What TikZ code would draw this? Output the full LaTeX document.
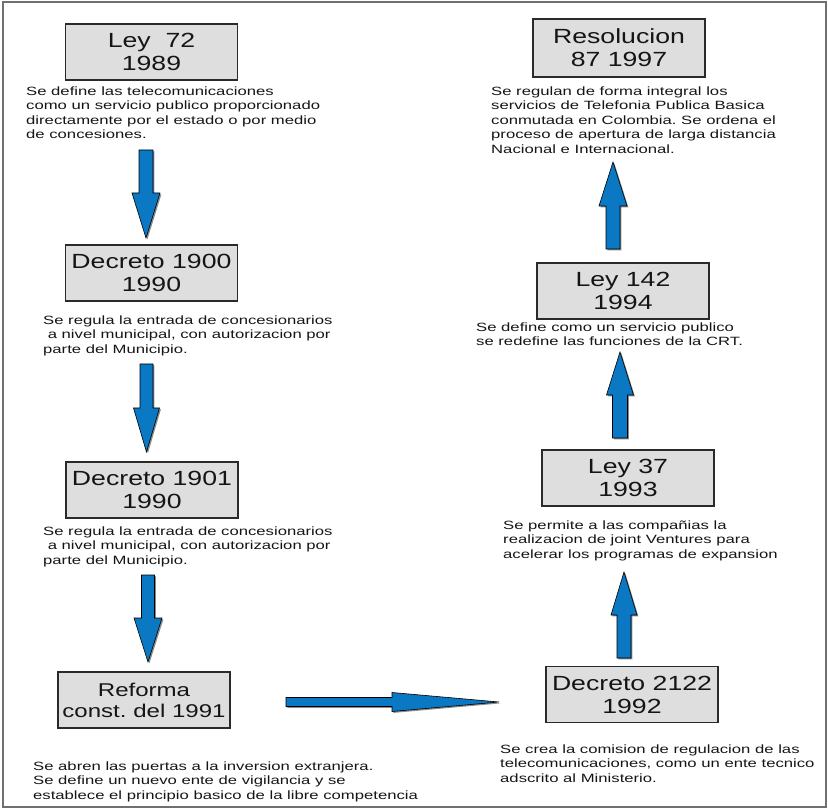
\documentclass[tikz,border=0pt]{standalone}
\usepackage{fontspec}
\setmainfont{Liberation Sans}
\newfontfamily\titlefont[FakeStretch=1.3]{Liberation Sans}
\newfontfamily\descfont[FakeStretch=1.39]{Liberation Sans}
\usetikzlibrary{calc}
\frenchspacing

\definecolor{framegray}{HTML}{707070}
\definecolor{boxfill}{HTML}{DEDEDE}
\definecolor{boxline}{HTML}{2A2A2A}
\definecolor{arrowblue}{HTML}{0A78C2}
\definecolor{shadowgray}{HTML}{8A8A8A}
\definecolor{textgray}{HTML}{151515}

\tikzset{
  lawbox/.style={draw=boxline, fill=boxfill, line width=1.1pt,
    minimum width=172pt, minimum height=56pt, inner sep=0pt,
    align=center, text=textgray,
    font={\titlefont\fontsize{20.5}{23}\selectfont}},
  smallbox/.style={lawbox, font={\titlefont\fontsize{18.5}{21}\selectfont}},
  note/.style={anchor=north west, inner sep=0pt, align=left, text=textgray,
    font={\descfont\fontsize{12}{14.5}\selectfont}},
  arrowbody/.style={fill=arrowblue, draw=black, line width=0.6pt, line join=miter},
  arrowshadow/.style={fill=shadowgray, draw=none},
  framestyle/.style={draw=framegray, line width=1.5pt},
}

% outline of a block arrow: #1 tail, #2 tip, #3 half shaft width,
% #4 half head width; (hb) is the centre of the head base
\newcommand\arrowoutline[4]{($(#1)!#3!90:(#2)$) -- ($(hb)!#3!90:(#2)$)
  -- ($(hb)!#4!90:(#2)$) -- (#2) -- ($(hb)!#4!-90:(#2)$)
  -- ($(hb)!#3!-90:(#2)$) -- ($(#1)!#3!-90:(#2)$) -- cycle}
% #5 is the length of the head
\newcommand\blockarrow[5]{%
  \coordinate (hb) at ($(#2)!#5!(#1)$);
  \fill[arrowshadow, transform canvas={shift={(1.4pt,-1.4pt)}}] \arrowoutline{#1}{#2}{#3}{#4};
  \filldraw[arrowbody] \arrowoutline{#1}{#2}{#3}{#4};
}

\begin{document}
\begin{tikzpicture}[x=1pt,y=-1pt]
\useasboundingbox (0,0) rectangle (828,810);

% outer frame
\coordinate (frameNW) at (3,2);
\coordinate (frameSE) at (826,807);
\draw[framestyle] (frameNW) rectangle (frameSE);

% left column
\node[lawbox] (ley72) at (151.5,52) {Ley\ \ 72\\1989};
\node[note] (ley72txt) at (26,86.5) {Se define las telecomunicaciones\\
como un servicio publico proporcionado\\
directamente por el estado o por medio\\
de concesiones.};

\node[lawbox] (dec1900) at (151.5,273) {Decreto 1900\\1990};
\node[note] (dec1900txt) at (43,315.5) {Se regula la entrada de concesionarios\\
\hspace*{4.6pt}a nivel municipal, con autorizacion por\\
parte del Municipio.};

\node[lawbox] (dec1901) at (152,490) {Decreto 1901\\1990};
\node[note] (dec1901txt) at (43,526.5) {Se regula la entrada de concesionarios\\
\hspace*{4.6pt}a nivel municipal, con autorizacion por\\
parte del Municipio.};

\node[smallbox] (reforma) at (144,700) {Reforma\\const. del 1991};
\node[note] (reformatxt) at (33,761.5) {Se abren las puertas a la inversion extranjera.\\
Se define un nuevo ente de vigilancia y se\\
establece el principio basico de la libre competencia};

% right column
\node[lawbox] (dec2122) at (632,694.5) {Decreto 2122\\1992};
\node[note] (dec2122txt) at (500,744.5) {Se crea la comision de regulacion de las\\
telecomunicaciones, como un ente tecnico\\
adscrito al Ministerio.};

\node[lawbox] (ley37) at (628,478) {Ley 37\\1993};
\node[note] (ley37txt) at (503,520.5) {Se permite a las compa\~nias la\\
realizacion de joint Ventures para\\
acelerar los programas de expansion};

\node[lawbox] (ley142) at (623,291) {Ley 142\\1994};
\node[note] (ley142txt) at (476,322.5) {Se define como un servicio publico\\
se redefine las funciones de la CRT.};

\node[lawbox, minimum height=58pt] (res87) at (619,48) {Resolucion\\87 1997};
\node[note] (res87txt) at (491,86.5) {Se regulan de forma integral los\\
servicios de Telefonia Publica Basica\\
conmutada en Colombia. Se ordena el\\
proceso de apertura de larga distancia\\
Nacional e Internacional.};

% arrow end points
\coordinate (a1from) at (146,150);   \coordinate (a1to) at (146,238);
\coordinate (a2from) at (146.5,364); \coordinate (a2to) at (146.5,452);
\coordinate (a3from) at (148,575);   \coordinate (a3to) at (148,662);
\coordinate (a4from) at (286,702);   \coordinate (a4to) at (499,702);
\coordinate (a5from) at (624,658);   \coordinate (a5to) at (624,572);
\coordinate (a6from) at (620,438);   \coordinate (a6to) at (620,352);
\coordinate (a7from) at (613,249);   \coordinate (a7to) at (613,162);

\blockarrow{a1from}{a1to}{7pt}{14pt}{45pt}
\blockarrow{a2from}{a2to}{6.5pt}{13pt}{44pt}
\blockarrow{a3from}{a3to}{6.5pt}{14pt}{44pt}
\blockarrow{a4from}{a4to}{4.5pt}{9.5pt}{107pt}
\blockarrow{a5from}{a5to}{7pt}{13pt}{43pt}
\blockarrow{a6from}{a6to}{7.5pt}{13.5pt}{43pt}
\blockarrow{a7from}{a7to}{7pt}{14pt}{44pt}
\end{tikzpicture}
\end{document}
